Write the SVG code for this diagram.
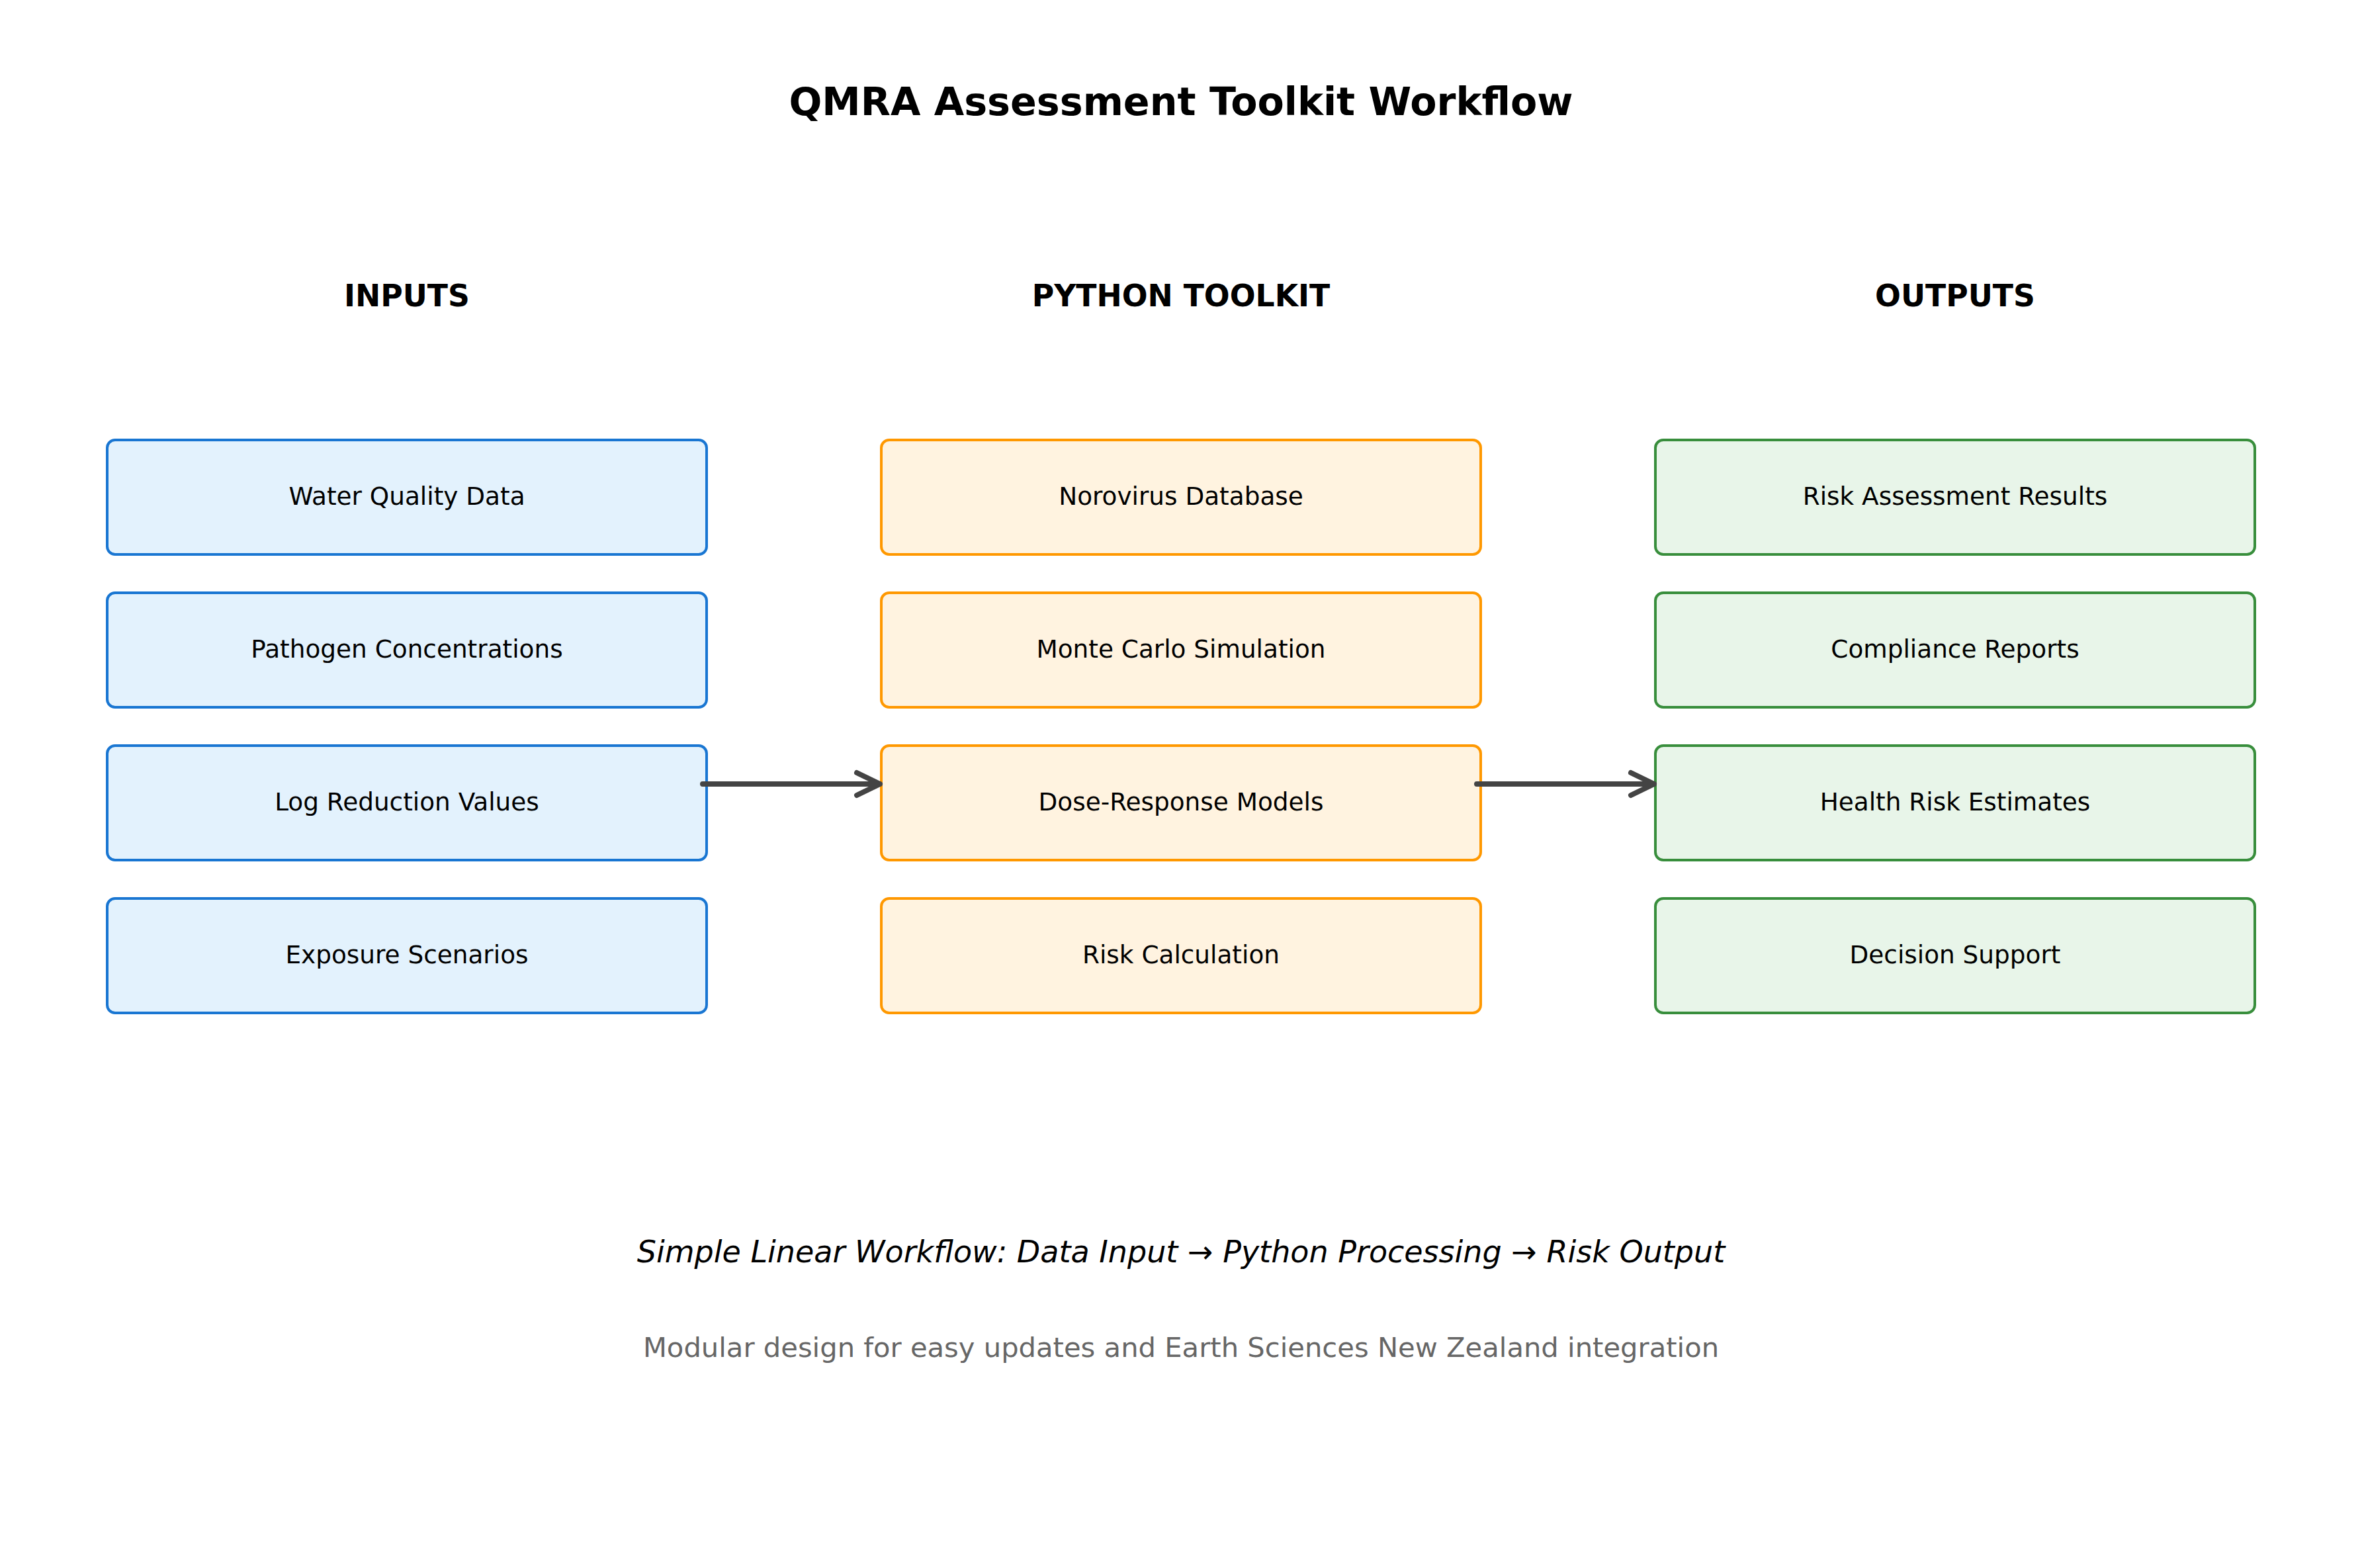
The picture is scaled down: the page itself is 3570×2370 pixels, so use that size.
<svg xmlns="http://www.w3.org/2000/svg" width="3570" height="2370" viewBox="0 0 3570 2370">
<style>
text{font-family:"DejaVu Sans",sans-serif;text-anchor:middle;dominant-baseline:central}
.title{font-size:58.7px;font-weight:bold;fill:#000}
.hdr{font-size:45.7px;font-weight:bold;fill:#000}
.lbl{font-size:37.4px;fill:#000}
.in rect{fill:#E3F2FD;stroke:#1976D2;stroke-width:4}
.pr rect{fill:#FFF3E0;stroke:#FF9800;stroke-width:4}
.out rect{fill:#E8F5E9;stroke:#388E3C;stroke-width:4}
.conn{stroke:#444;stroke-width:8;stroke-linecap:round;stroke-linejoin:round;fill:none}
.sub{font-size:46px;font-style:italic;fill:#000}
.note{font-size:41.7px;fill:#666}
</style>
<rect width="3570" height="2370" fill="#fff"/>
<text class="title" x="1785" y="154">QMRA Assessment Toolkit Workflow</text>
<text class="hdr" x="615" y="447">INPUTS</text>
<text class="hdr" x="1785" y="447">PYTHON TOOLKIT</text>
<text class="hdr" x="2955" y="447">OUTPUTS</text>

<g id="in1" class="in"><rect x="162" y="665" width="906" height="173" rx="12"/><text class="lbl" x="615" y="750">Water Quality Data</text></g>
<g id="in2" class="in"><rect x="162" y="896" width="906" height="173" rx="12"/><text class="lbl" x="615" y="981">Pathogen Concentrations</text></g>
<g id="in3" class="in"><rect x="162" y="1127" width="906" height="173" rx="12"/><text class="lbl" x="615" y="1212">Log Reduction Values</text></g>
<g id="in4" class="in"><rect x="162" y="1358" width="906" height="173" rx="12"/><text class="lbl" x="615" y="1443">Exposure Scenarios</text></g>

<g id="pr1" class="pr"><rect x="1332" y="665" width="906" height="173" rx="12"/><text class="lbl" x="1785" y="750">Norovirus Database</text></g>
<g id="pr2" class="pr"><rect x="1332" y="896" width="906" height="173" rx="12"/><text class="lbl" x="1785" y="981">Monte Carlo Simulation</text></g>
<g id="pr3" class="pr"><rect x="1332" y="1127" width="906" height="173" rx="12"/><text class="lbl" x="1785" y="1212">Dose-Response Models</text></g>
<g id="pr4" class="pr"><rect x="1332" y="1358" width="906" height="173" rx="12"/><text class="lbl" x="1785" y="1443">Risk Calculation</text></g>

<g id="out1" class="out"><rect x="2502" y="665" width="906" height="173" rx="12"/><text class="lbl" x="2955" y="750">Risk Assessment Results</text></g>
<g id="out2" class="out"><rect x="2502" y="896" width="906" height="173" rx="12"/><text class="lbl" x="2955" y="981">Compliance Reports</text></g>
<g id="out3" class="out"><rect x="2502" y="1127" width="906" height="173" rx="12"/><text class="lbl" x="2955" y="1212">Health Risk Estimates</text></g>
<g id="out4" class="out"><rect x="2502" y="1358" width="906" height="173" rx="12"/><text class="lbl" x="2955" y="1443">Decision Support</text></g>

<g id="connectors">
<path class="conn" d="M1062 1185 H1330 M1295 1168 L1330 1185 L1295 1202"/>
<path class="conn" d="M2232 1185 H2500 M2465 1168 L2500 1185 L2465 1202"/>
</g>

<text class="sub" x="1785" y="1892">Simple Linear Workflow: Data Input → Python Processing → Risk Output</text>
<text class="note" x="1785" y="2036">Modular design for easy updates and Earth Sciences New Zealand integration</text>
</svg>
